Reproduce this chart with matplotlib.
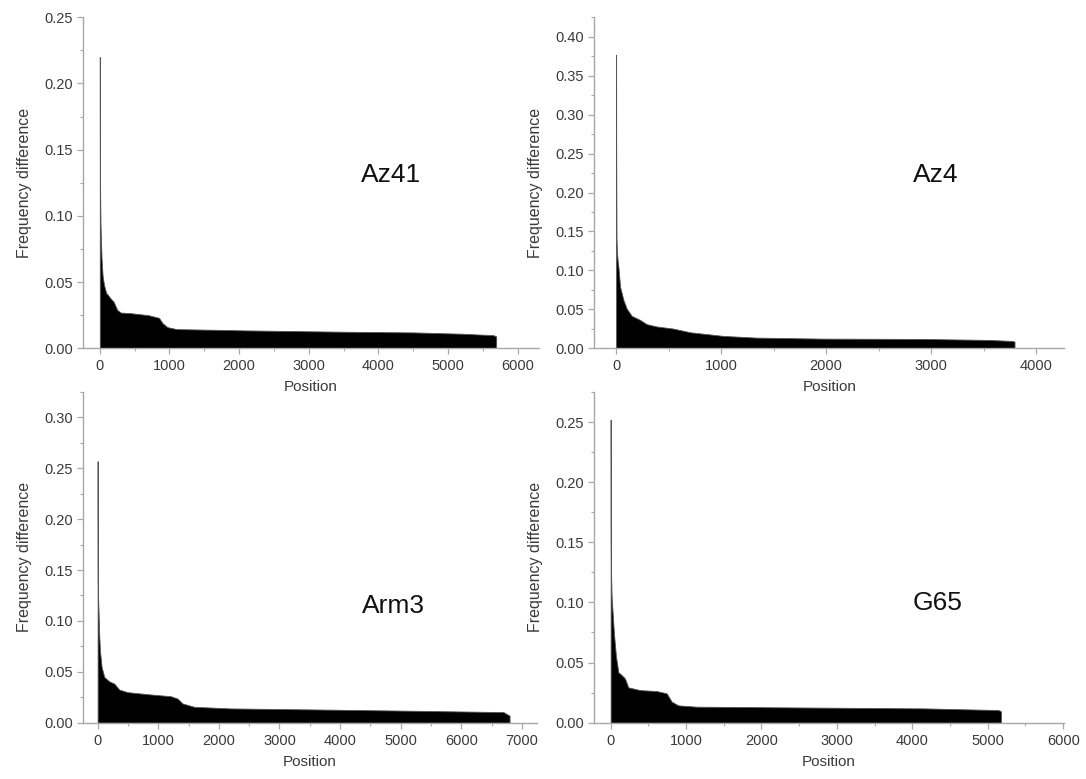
## Frequency difference vs position, four samples ##
import matplotlib
matplotlib.use('Agg')
import matplotlib.pyplot as plt
from matplotlib.ticker import MultipleLocator, FormatStrFormatter

plt.rcParams['font.family'] = ['Liberation Sans', 'DejaVu Sans']

##############################################################################
############################     Data (read off)   ###########################
##############################################################################
sample_names = ['Az41', 'Az4', 'Arm3', 'G65']

az41_pos = [0, 1, 3, 6, 10, 15, 25, 40, 60, 90, 150, 200, 250, 300, 450,
            700, 850, 900, 970, 1100, 2100, 3500, 4500, 5200, 5650, 5690]
az41_val = [0.22, 0.15, 0.128, 0.11, 0.095, 0.085, 0.068, 0.055, 0.048, 0.042,
            0.038, 0.035, 0.029, 0.027, 0.0265, 0.025, 0.023, 0.019, 0.016,
            0.0145, 0.0135, 0.0125, 0.012, 0.011, 0.0099, 0.009]

az4_pos = [0, 1, 2, 4, 8, 15, 22, 38, 70, 101, 149, 228, 292, 387, 545,
           704, 1021, 1338, 1972, 2923, 3557, 3779, 3795]
az4_val = [0.377, 0.253, 0.213, 0.14, 0.125, 0.112, 0.105, 0.079, 0.062, 0.051,
           0.0416, 0.0365, 0.031, 0.028, 0.0253, 0.0206, 0.0159, 0.0137,
           0.0124, 0.012, 0.0107, 0.0094, 0.0085]

arm3_pos = [0, 1, 3, 8, 16, 25, 38, 66, 110, 192, 275, 357, 494, 824, 1208,
            1318, 1400, 1592, 2196, 3568, 5215, 6697, 6780, 6797]
arm3_val = [0.257, 0.198, 0.14, 0.122, 0.108, 0.088, 0.071, 0.0546, 0.0449,
            0.0406, 0.0384, 0.0325, 0.030, 0.028, 0.026, 0.0237, 0.0189,
            0.0156, 0.014, 0.013, 0.0117, 0.0104, 0.0075, 0.007]

g65_pos = [0, 1, 2, 5, 13, 44, 71, 102, 146, 190, 234, 389, 610, 743, 809,
           897, 1140, 2378, 4146, 5140, 5175]
g65_val = [0.252, 0.205, 0.15, 0.125, 0.105, 0.074, 0.055, 0.042, 0.0396,
           0.0368, 0.0294, 0.0271, 0.0263, 0.0244, 0.0175, 0.0144, 0.0133,
           0.0127, 0.0119, 0.0105, 0.0095]

##############################################################################
##########################     Layout           ##############################
##############################################################################
# [left, bottom, width, height], xlim, ylim, label position (axes frac)
panels = [
    ([0.0765, 0.5529, 0.4195, 0.4249], (-240, 6300), (0, 0.25),  (0.675, 0.524)),
    ([0.5470, 0.5529, 0.4331, 0.4249], (-210, 4270), (0, 0.425), (0.726, 0.524)),
    ([0.0765, 0.0723, 0.4180, 0.4245], (-240, 7250), (0, 0.325), (0.683, 0.353)),
    ([0.5470, 0.0723, 0.4327, 0.4245], (-220, 6010), (0, 0.275), (0.732, 0.362)),
]
series = [(az41_pos, az41_val), (az4_pos, az4_val),
          (arm3_pos, arm3_val), (g65_pos, g65_val)]

axis_grey = '#a8a8a8'
text_grey = '#3a3a3a'

fig = plt.figure(figsize=(10.86, 7.79), dpi=100)

for i in range(4):
    rect, xl, yl, lab = panels[i]
    pos, val = series[i]
    ax = fig.add_axes(rect)
    # thin edge so the single-position spike stays visible (greyish, as in the original)
    ax.fill_between(pos, 0, val, facecolor='black', edgecolor='#555555', lw=0.6)

    ax.set_xlim(*xl)
    ax.set_ylim(*yl)
    ax.spines['top'].set_visible(False)
    ax.spines['right'].set_visible(False)
    for s in ['left', 'bottom']:
        ax.spines[s].set_color(axis_grey)
        ax.spines[s].set_linewidth(1.0)

    ax.xaxis.set_major_locator(MultipleLocator(1000))
    ax.xaxis.set_minor_locator(MultipleLocator(500))
    ax.yaxis.set_major_locator(MultipleLocator(0.05))
    ax.yaxis.set_minor_locator(MultipleLocator(0.025))
    ax.yaxis.set_major_formatter(FormatStrFormatter('%.2f'))

    ax.tick_params(which='major', direction='out', length=4, width=0.9,
                   color=axis_grey, labelcolor=text_grey, labelsize=10.5)
    ax.tick_params(which='minor', direction='out', length=2.5, width=0.8,
                   color=axis_grey)
    ax.tick_params(axis='x', pad=4)
    ax.tick_params(axis='y', pad=3)

    ax.set_xlabel('Position', fontsize=11, color=text_grey, labelpad=5)
    ax.set_ylabel('Frequency difference', fontsize=11.5, color=text_grey, labelpad=9)

    ax.text(lab[0], lab[1], sample_names[i], transform=ax.transAxes,
            ha='center', va='center', fontsize=19, color='#111111')

fig.savefig('out.png', dpi=100)
